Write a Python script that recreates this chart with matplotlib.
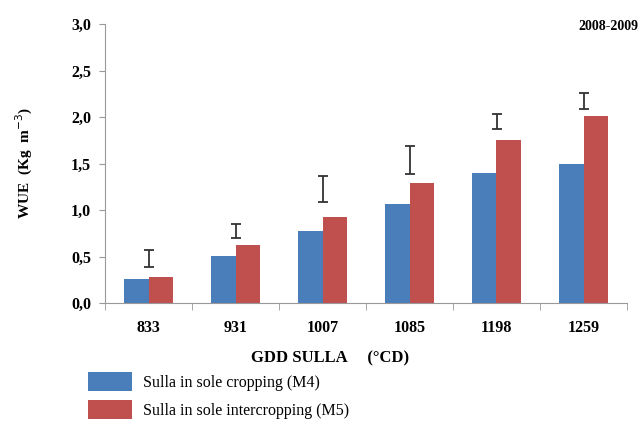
import numpy as np
import matplotlib
matplotlib.use("Agg")
import matplotlib.pyplot as plt
from matplotlib.patches import Patch

# data
gdd = ["833", "931", "1007", "1085", "1198", "1259"]
wue_m4 = [0.255, 0.51, 0.77, 1.06, 1.40, 1.50]
wue_m5 = [0.28, 0.62, 0.92, 1.29, 1.75, 2.01]
err_low = [0.39, 0.70, 1.09, 1.39, 1.87, 2.09]
err_high = [0.57, 0.85, 1.37, 1.69, 2.03, 2.26]
series_labels = ["Sulla in sole cropping (M4)", "Sulla in sole intercropping (M5)"]

blue = "#4a7ebb"
red = "#c0504d"
serif = ["Liberation Serif", "DejaVu Serif"]

plt.rcParams.update({"font.family": serif})

fig = plt.figure(figsize=(6.42, 4.26), dpi=100)
ax = fig.add_axes([105 / 642, 1 - 303 / 426, 522 / 642, 279 / 426])

x = np.arange(len(gdd))
w = 0.28
ax.bar(x - w / 2, wue_m4, w, color=blue, zorder=2)
ax.bar(x + w / 2, wue_m5, w, color=red, zorder=2)

mid = (np.array(err_low) + np.array(err_high)) / 2
half = (np.array(err_high) - np.array(err_low)) / 2
ax.errorbar(x, mid, yerr=half, fmt="none", ecolor="#333333",
            elinewidth=1.3, capsize=3.5, capthick=1.3, zorder=3)

ax.set_xlim(-0.5, len(gdd) - 0.5)
ax.set_ylim(0, 3.0)
ax.set_yticks(np.arange(0, 3.01, 0.5))
ax.set_yticklabels([f"{v:.1f}".replace(".", ",") for v in np.arange(0, 3.01, 0.5)],
                   fontsize=11.5, fontweight="bold")
ax.set_xticks(x)
ax.set_xticklabels(gdd, fontsize=11.5, fontweight="bold")
ax.tick_params(axis="x", length=0, pad=12)
ax.set_xticks(np.arange(-0.5, len(gdd)), minor=True)
ax.tick_params(axis="x", which="minor", length=5, color="#999999")
ax.tick_params(axis="y", length=4, color="#999999", pad=6)

for s in ["top", "right"]:
    ax.spines[s].set_visible(False)
for s in ["left", "bottom"]:
    ax.spines[s].set_color("#999999")

ax.set_ylabel("WUE  (Kg  m$^{-3}$)", fontsize=11, fontweight="bold", labelpad=26)
fig.text(330 / 642, 1 - 358 / 426, "GDD SULLA     (°CD)", fontsize=12,
         fontweight="bold", ha="center", va="center")
fig.text(638 / 642, 1 - 27 / 426, "2008-2009", fontsize=10,
         fontweight="bold", ha="right", va="center")

handles = [Patch(facecolor=blue), Patch(facecolor=red)]
fig.legend(handles, series_labels, loc="upper left",
           bbox_to_anchor=(74 / 642, 1 - 358 / 426), frameon=False,
           handlelength=2.7, handleheight=1.4, labelspacing=0.6,
           handletextpad=0.7, prop={"family": serif, "size": 11.5})

fig.savefig("out.png", dpi=100)
